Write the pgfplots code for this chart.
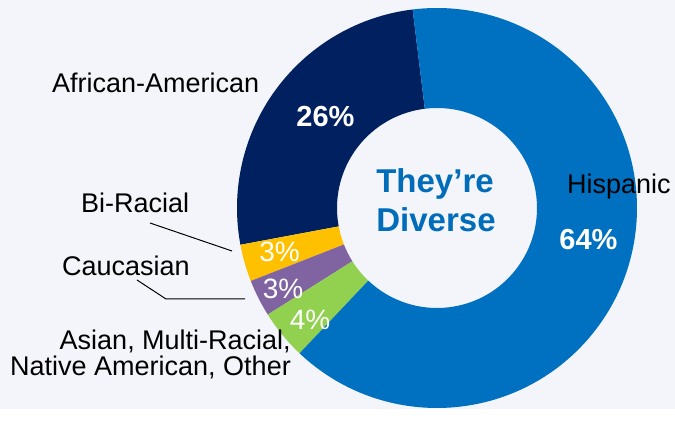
\documentclass[border=0pt]{standalone}
\usepackage{fontspec}
\setmainfont{Liberation Sans}
\usepackage{pgfplots}
\usepackage{pgfplotstable}
\pgfplotsset{compat=1.18}

\definecolor{bg}{RGB}{243,245,250}
\definecolor{hisp}{RGB}{0,112,192}
\definecolor{afam}{RGB}{0,32,96}
\definecolor{bira}{RGB}{255,192,0}
\definecolor{cauc}{RGB}{128,100,162}
\definecolor{asia}{RGB}{146,208,80}
\definecolor{title}{RGB}{0,108,186}

% share of students, counter-clockwise from the top
\pgfplotstableread{
group      pct  color
African    26   afam
BiRacial   3    bira
Caucasian  3    cauc
Asian      4    asia
Hispanic   64   hisp
}\piedata

\newcommand\lbl{\fontsize{27}{30}\selectfont}
\newcommand\pctbig{\fontsize{29}{32}\selectfont\bfseries}
\newcommand\pctsmall{\fontsize{28}{30}\selectfont}

\begin{document}
\begin{tikzpicture}
\fill[bg] (0,0) rectangle (675pt,409pt);
\begin{axis}[
    x=1pt, y=1pt,
    xmin=0, xmax=675, ymin=0, ymax=409,
    scale only axis,
    hide axis,
    clip=false,
    ]

% donut slices from the table
\pgfplotstablegetrowsof{\piedata}
\pgfmathtruncatemacro\nrows{\pgfplotsretval-1}
\def\curang{97}
\pgfplotsforeachungrouped \i in {0,...,\nrows}{
  \pgfplotstablegetelem{\i}{pct}\of\piedata
  \pgfmathsetmacro\nextang{\curang+3.6*\pgfplotsretval}
  \pgfplotstablegetelem{\i}{color}\of\piedata
  \edef\temp{\noexpand\fill[\pgfplotsretval] (437,201) ++(\curang:200pt)
    arc[start angle=\curang, end angle=\nextang, radius=200pt]
    -- ++(\nextang:-100pt)
    arc[start angle=\nextang, end angle=\curang, radius=100pt] -- cycle;}
  \temp
  \global\let\curang\nextang
}

% centre title
\node[anchor=base, text=title, font=\fontsize{33}{36}\selectfont\bfseries] at (435,216) {They’re};
\node[anchor=base, text=title, font=\fontsize{33}{36}\selectfont\bfseries] at (436,177) {Diverse};

% percentages
\node[anchor=base, text=white, font=\pctbig] at (325.5,282) {26\%};
\node[anchor=base, text=white, font=\pctbig] at (588.5,159) {64\%};
\node[anchor=base, text=white, font=\pctsmall] at (279.5,147) {3\%};
\node[anchor=base, text=white, font=\pctsmall] at (283,110) {3\%};
\node[anchor=base, text=white, font=\pctsmall] at (310,79) {4\%};

% group labels
\node[anchor=base west, inner sep=0pt, font=\lbl] at (52,316) {African-American};
\node[anchor=base west, inner sep=0pt, font=\lbl] at (567,215) {Hispanic};
\node[anchor=base west, inner sep=0pt, font=\lbl] at (81,196) {Bi-Racial};
\node[anchor=base west, inner sep=0pt, font=\lbl] at (62,133) {Caucasian};
\node[anchor=base east, inner sep=0pt, font=\lbl] at (291,59) {Asian, Multi-Racial,};
\node[anchor=base east, inner sep=0pt, font=\lbl] at (291,33) {Native American, Other};

% leader lines
\draw[black, line width=1pt] (150,186) -- (232,158);
\draw[black, line width=1pt] (137,129) -- (166,110) -- (245,110);

\end{axis}
\end{tikzpicture}
\end{document}
